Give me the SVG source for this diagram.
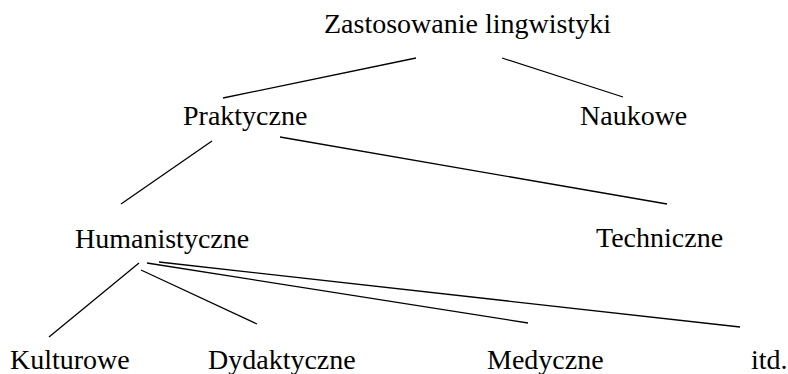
<svg xmlns="http://www.w3.org/2000/svg" width="788" height="374" viewBox="0 0 788 374">
<style>
text { font-family: "Liberation Serif", "Times New Roman", serif; font-size: 28px; fill: #000; }
.c line { stroke: #000; stroke-width: 1.3; stroke-linecap: butt; }
</style>
<rect width="788" height="374" fill="#fff"/>
<g class="c" id="connectors">
<line x1="416" y1="58" x2="223" y2="98"/>
<line x1="502" y1="58" x2="623" y2="97"/>
<line x1="212" y1="141" x2="121" y2="204"/>
<line x1="280" y1="137" x2="667" y2="204"/>
<line x1="139" y1="263" x2="49" y2="337"/>
<line x1="141" y1="270" x2="257" y2="324"/>
<line x1="147" y1="263" x2="528" y2="323"/>
<line x1="159" y1="262" x2="740" y2="327"/>
</g>
<g id="n-root"><text x="324" y="33">Zastosowanie lingwistyki</text></g>
<g id="n-praktyczne"><text x="183" y="125">Praktyczne</text></g>
<g id="n-naukowe"><text x="580" y="125">Naukowe</text></g>
<g id="n-humanistyczne"><text x="75" y="248">Humanistyczne</text></g>
<g id="n-techniczne"><text x="596" y="247">Techniczne</text></g>
<g id="n-kulturowe"><text x="10" y="369">Kulturowe</text></g>
<g id="n-dydaktyczne"><text x="208" y="369">Dydaktyczne</text></g>
<g id="n-medyczne"><text x="487" y="369">Medyczne</text></g>
<g id="n-itd"><text x="751" y="369">itd.</text></g>
</svg>
